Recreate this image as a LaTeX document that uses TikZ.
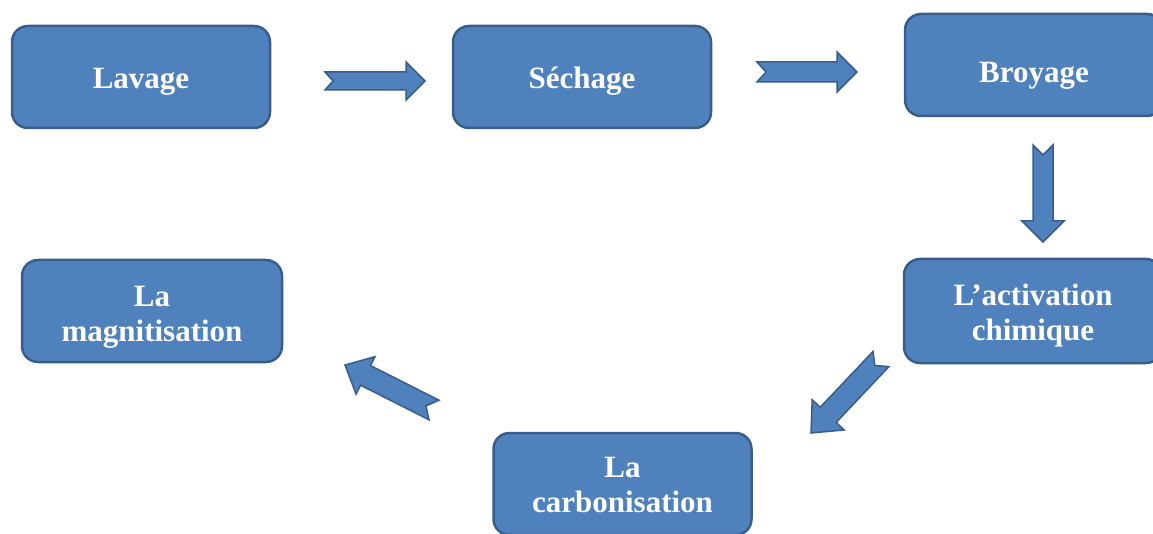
\documentclass[tikz,border=0pt]{standalone}
\usepackage{fontspec}
\setmainfont{Liberation Serif}
\usetikzlibrary{calc}
\definecolor{boxfill}{HTML}{4F81BD}
\definecolor{boxline}{HTML}{385D8A}
\tikzset{
  stepbox/.style={draw=boxline, line width=2.5pt, fill=boxfill, rounded corners=16pt,
    minimum width=258pt, minimum height=102pt, inner sep=0pt, align=center,
    text=white, font=\bfseries\fontsize{31}{35}\selectfont},
  blockarrow/.style={draw=boxline, line width=1.5pt, fill=boxfill, line join=miter}
}
% text lowered inside its box, keeping the box size
\newcommand\boxtext[2][5pt]{\raisebox{-#1}[\height][\depth]{\begin{tabular}{@{}c@{}}#2\end{tabular}}}
% notched block arrow between two named coordinates
\newcommand\notcharrow[6]{% start, end, shaft half, head half, head length, notch
  \coordinate (nbase) at ($(#2)!#5!(#1)$);
  \path[blockarrow] ($(#1)!#3!90:(#2)$) -- ($(#1)!#6!(#2)$) -- ($(#1)!#3!-90:(#2)$)
    -- ($(nbase)!#3!-90:(#2)$) -- ($(nbase)!#4!-90:(#2)$) -- (#2)
    -- ($(nbase)!#4!90:(#2)$) -- ($(nbase)!#3!90:(#2)$) -- cycle;
}
\begin{document}
\begin{tikzpicture}[x=1pt,y=-1pt]
\useasboundingbox (0,0) rectangle (1153,534);
\clip (0,0) rectangle (1153,534);
\node[stepbox] (lav)  at (141,77)  {\boxtext{Lavage}};
\node[stepbox] (sech) at (582,77)  {\boxtext{Séchage}};
\node[stepbox] (broy) at (1034,65) {\boxtext[11pt]{Broyage}};
\node[stepbox, minimum height=104pt] (act) at (1033,311) {\boxtext{L’activation\\chimique}};
\node[stepbox] (carb) at (622.5,484) {\boxtext[4pt]{La\\carbonisation}};
\node[stepbox, minimum width=260pt] (mag) at (152,311) {\boxtext[6pt]{La\\magnitisation}};
% arrow end points
\coordinate (a1s) at (325,81);  \coordinate (a1e) at (425,81);
\coordinate (a2s) at (757,72);  \coordinate (a2e) at (857,72);
\coordinate (a3s) at (1043,145); \coordinate (a3e) at (1043,242);
\coordinate (a4s) at (881,359); \coordinate (a4e) at (811,433);
\coordinate (a5s) at (434,410); \coordinate (a5e) at (345,365);
\notcharrow{a1s}{a1e}{9pt}{19pt}{19pt}{8pt}
\notcharrow{a2s}{a2e}{10pt}{20pt}{20pt}{9pt}
\notcharrow{a3s}{a3e}{10pt}{21pt}{21pt}{10pt}
\notcharrow{a4s}{a4e}{11pt}{22pt}{25pt}{9pt}
\notcharrow{a5s}{a5e}{11pt}{21pt}{23pt}{9pt}
\end{tikzpicture}
\end{document}
